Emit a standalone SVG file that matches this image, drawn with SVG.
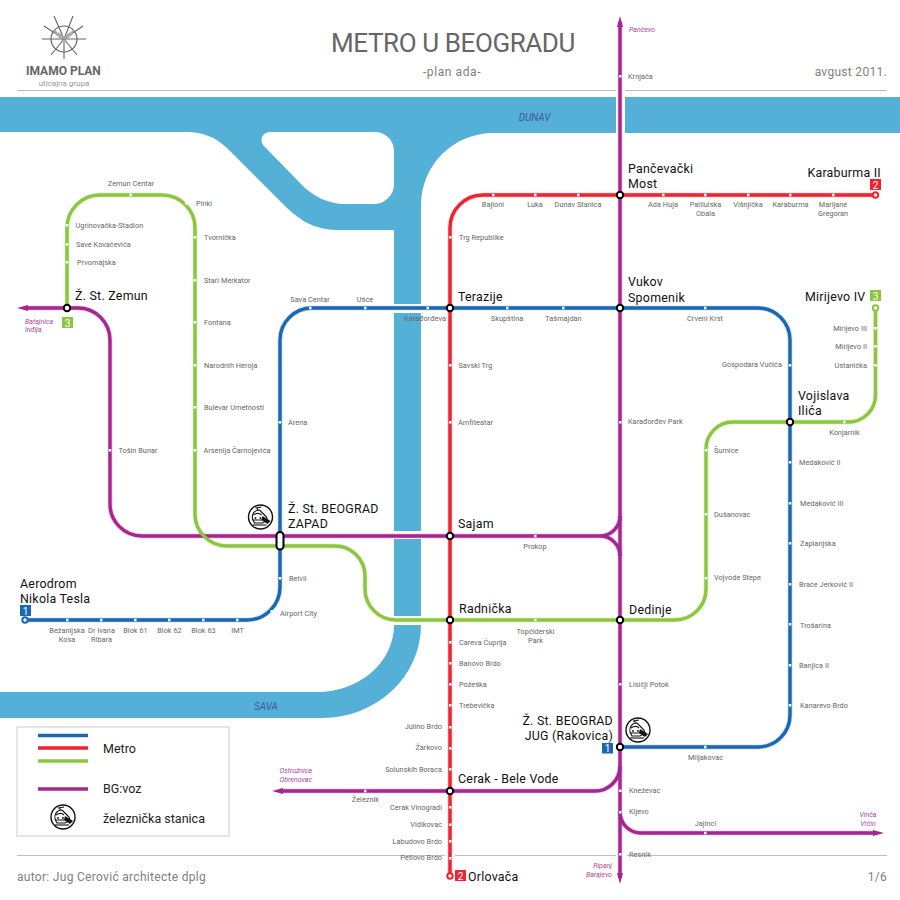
<svg xmlns="http://www.w3.org/2000/svg" width="900" height="900" viewBox="0 0 900 900">
<style>
text{font-family:Roboto,"Liberation Sans",sans-serif}
.s{font-size:7.3px;fill:#666;letter-spacing:.04px}
.m{text-anchor:middle}.e{text-anchor:end}
.b{font-size:12.400px;fill:#111;letter-spacing:.25px}
.o{font-size:7px;fill:#a8489e;font-style:italic}
.r{font-size:10px;fill:#3f55a5;font-style:italic;text-anchor:middle}
.h{font-size:12px;fill:#808080;letter-spacing:.3px}
.n{font-size:10px;fill:#fff;text-anchor:middle}
.d{fill:#fff}
.w{fill:#55b0d8}
.l{fill:none;stroke-width:3.400}
.hl{fill:none;stroke-width:5;stroke-opacity:.22}
.pu{stroke:#a6268f}.re{stroke:#ee2330}.bl{stroke:#1b68b2}.gr{stroke:#8cc63f}
.x{fill:#fff;stroke:#000;stroke-width:2}
.rule{stroke:#bdbdbd;stroke-width:1;fill:none}
.ring{fill:#fff;stroke-width:2}
.tr{fill:none;stroke:#111;stroke-width:1.100}
</style>
<defs>
<g id="train">
<circle r="12" fill="#fff" stroke="#111" stroke-width="1.400"/>
<path class="tr" d="M-8 2C-9-3-6-7-1-7L3-3 6 0 7 3 2 6-6 6Z"/>
<path class="tr" d="M-7-2C-4-4-1-4 1-2M-8 3H2M-5-9L1-10M-3-9V-7"/>
<path d="M2-1L10 4 7 7 1 3Z" fill="#111"/>
<path d="M-8 8H6" class="tr"/>
<circle cx="-5" cy="1" r=".9" fill="#111"/><circle cx="0" cy="1" r=".9" fill="#111"/>
</g>
<path id="pa" d="M620 22V878"/>
<path id="pb" d="M25 308H78A32 32 0 0 1 110 340V504A32 32 0 0 0 142 536H600A20 20 0 0 0 620 516M600 536A20 20 0 0 1 620 556"/>
<path id="pc" d="M280 791H595A25 25 0 0 0 620 766"/>
<path id="pd" d="M620 812A21 21 0 0 0 641 833H875"/>
<path id="lb" d="M25 620H247A33 33 0 0 0 280 587V340A32 32 0 0 1 312 308H758A32 32 0 0 1 790 340V715A32 32 0 0 1 758 747H620"/>
<path id="lr" d="M875.500 195H483A33 33 0 0 0 450 228V876"/>
<path id="lg" d="M875.500 308V395A27 27 0 0 1 848.500 422H733A27 27 0 0 0 706 449V589A31 31 0 0 1 675 620H396A31 31 0 0 1 365 589V576A30 30 0 0 0 335 546H227A32 32 0 0 1 195 514V228A33 33 0 0 0 162 195H100A33 33 0 0 0 67 228V308"/>
</defs>
<rect width="900" height="900" fill="#fff"/>

<g id="water">
<path class="w" fill-rule="evenodd" d="M0 97H616V133H493A72 72 0 0 0 421 205V304H394V230H340C320 230 305 225 287 208L227 148C215 137 203 132 187 132H0ZM270 132H375A19 19 0 0 1 394 151V184A20 20 0 0 1 375 204H345C328 204 312 196 300 183L264 146C259 141 262 132 270 132Z"/>
<rect class="w" x="625" y="97" width="275" height="36"/>
<rect class="w" x="394" y="313" width="27" height="218"/>
<rect class="w" x="394" y="539" width="27" height="77"/>
<path class="w" d="M394 625H421A99 93 0 0 1 322 718H0V692H317A77 67 0 0 0 394 625Z"/>
<text class="r" x="534.500" y="120.500">DUNAV</text>
<text class="r" x="266" y="710">SAVA</text>
</g>

<g id="header">
<path class="rule" d="M17 90.500H616M625 90.500H887M17 855.500H445M455 855.500H616M627 855.500H887"/>
<text x="331" y="52" font-size="26" fill="#666" style="letter-spacing:-.4px">METRO U BEOGRADU</text>
<text class="h m" x="452" y="76" style="letter-spacing:.6px">-plan ada-</text>
<text class="h e" x="887" y="76">avgust 2011.</text>
<text class="h" x="17" y="881">autor: Jug Cerović architecte dplg</text>
<text class="h e" x="887" y="881">1/6</text>
</g>

<g id="logo" fill="none" stroke="#666" stroke-width="1.200">
<circle cx="64" cy="39" r="13"/>
<path d="M42 39H86M64 39V59M64 39L54 16M64 39L73 16M64 39L51 55M64 39L77 55M64 39L44 26M64 39L83 26" stroke-width="1.100"/>
<path d="M54 30L64 42 74 30M58 33L64 38 70 33" stroke="#aaa" stroke-width="2"/>
<text x="26" y="75" font-size="12" font-weight="700" fill="#666" stroke="none">IMAMO PLAN</text>
<text x="64" y="85.500" font-size="8" fill="#999" stroke="none" text-anchor="middle">uticajna grupa</text>
</g>

<g id="legend">
<rect x="17" y="727" width="212" height="109" fill="#fff" stroke="#ccc"/>
<path class="l bl" d="M38 735.500H88"/>
<path class="l re" d="M38 748H88"/>
<path class="l gr" d="M38 761H88"/>
<path class="l pu" d="M38 789H88"/>
<text x="103" y="753" font-size="12.500" fill="#222">Metro</text>
<text x="103" y="793" font-size="12.500" fill="#222">BG:voz</text>
<text x="103" y="823" font-size="12.500" fill="#222">železnička stanica</text>
<use href="#train" x="63" y="817"/>
</g>

<g id="connectors">
<use href="#pa" class="hl pu"/><use href="#pb" class="hl pu"/><use href="#pc" class="hl pu"/><use href="#pd" class="hl pu"/>
<use href="#lb" class="hl bl"/><use href="#lr" class="hl re"/><use href="#lg" class="hl gr"/>
<use href="#pa" class="l pu"/><use href="#pb" class="l pu"/><use href="#pc" class="l pu"/><use href="#pd" class="l pu"/>
<use href="#lb" class="l bl"/><use href="#lr" class="l re"/><use href="#lg" class="l gr"/>
<path fill="#a6268f" d="M620 16L623 27H617ZM620 884L617 873H623ZM17 308L28 305V311ZM272 791L283 788V794ZM884 833L873 830V836Z"/>
</g>

<g id="terminals">
<g id="t-karaburma2"><circle class="ring re" cx="875.500" cy="195" r="2.700"/><rect x="870" y="179" width="11" height="11" fill="#ee2330"/><text class="n" x="875.500" y="188.500">2</text><text class="b e" x="881" y="177">Karaburma II</text></g>
<g id="t-mirijevo4"><circle class="ring gr" cx="875.500" cy="308" r="2.700"/><rect x="870" y="290" width="11" height="11" fill="#8cc63f"/><text class="n" x="875.500" y="299.500">3</text><text class="b e" x="865.500" y="301">Mirijevo IV</text></g>
<g id="t-aerodrom"><circle class="ring bl" cx="25" cy="620" r="2.700"/><rect x="20" y="605" width="11" height="11" fill="#1b68b2"/><text class="n" x="25.500" y="614.500">1</text><text class="b" x="20" y="588">Aerodrom</text><text class="b" x="20" y="603">Nikola Tesla</text></g>
<g id="t-orlovaca"><circle class="ring re" cx="450" cy="876" r="2.700"/><rect x="455" y="870" width="11" height="11" fill="#ee2330"/><text class="n" x="460.500" y="879.500">2</text><text class="b" x="468" y="881">Orlovača</text></g>
</g>

<g id="interchanges">
<g id="n-pancevacki"><circle class="x" cx="620" cy="195" r="3.200"/><text class="b" x="628" y="173">Pančevački</text><text class="b" x="628" y="188">Most</text></g>
<g id="n-vukov"><circle class="x" cx="620" cy="308" r="3.200"/><text class="b" x="628" y="286">Vukov</text><text class="b" x="628" y="302">Spomenik</text></g>
<g id="n-terazije"><circle class="x" cx="450" cy="308" r="3.200"/><text class="b" x="458" y="301">Terazije</text></g>
<g id="n-zemun"><circle class="x" cx="67" cy="308" r="3.200"/><text class="b" x="75" y="300">Ž. St. Zemun</text><rect x="62" y="317" width="11" height="11" fill="#8cc63f"/><text class="n" x="67.500" y="326.500">3</text></g>
<g id="n-vojislava"><circle class="x" cx="790" cy="422" r="3.200"/><text class="b" x="798" y="400">Vojislava</text><text class="b" x="798" y="415">Ilića</text></g>
<g id="n-sajam"><circle class="x" cx="450" cy="536" r="3.200"/><text class="b" x="458" y="528">Sajam</text></g>
<g id="n-zapad"><rect class="x" x="276.500" y="532" width="7" height="17.500" rx="3.500"/><text class="b" x="288" y="513">Ž. St. BEOGRAD</text><text class="b" x="288" y="528">ZAPAD</text><use href="#train" x="260.500" y="517"/></g>
<g id="n-radnicka"><circle class="x" cx="450" cy="620" r="3.200"/><text class="b" x="459" y="613">Radnička</text></g>
<g id="n-dedinje"><circle class="x" cx="620" cy="620" r="3.200"/><text class="b" x="629" y="614">Dedinje</text></g>
<g id="n-jug"><circle class="x" cx="620" cy="747" r="3.200"/><text class="b e" x="613" y="725">Ž. St. BEOGRAD</text><text class="b e" x="613" y="740">JUG (Rakovica)</text><rect x="602" y="743" width="11" height="10.500" fill="#1b68b2"/><text class="n" x="607.500" y="752">1</text><use href="#train" x="638" y="730"/></g>
<g id="n-cerak"><circle class="x" cx="450" cy="791" r="3.200"/><text class="b" x="458" y="783">Cerak - Bele Vode</text></g>
</g>

<g id="directions">
<text class="o" x="629" y="32">Pančevo</text>
<text class="o" x="25" y="323.500">Batajnica</text><text class="o" x="25" y="332">Inđija</text>
<text class="o e" x="312" y="772.500">Ostružnica</text><text class="o e" x="312" y="781.500">Obrenovac</text>
<text class="o e" x="612" y="867.500">Ripanj</text><text class="o e" x="612" y="876.500">Barajevo</text>
<text class="o m" x="868" y="816.500">Vinča</text><text class="o m" x="868" y="825.500">Vrčin</text>
</g>

<g id="stations">
<g id="s01"><rect class="d" x="619" y="75" width="2.500" height="2.500"/><text class="s" x="628" y="79">Krnjača</text></g>
<g id="s02"><rect class="d" x="129.500" y="193.700" width="2.500" height="2.500"/><text class="s m" x="131" y="186">Zemun Centar</text></g>
<g id="s03"><rect class="d" x="185" y="202" width="2.500" height="2.500"/><text class="s" x="196" y="206">Pinki</text></g>
<g id="s04"><rect class="d" x="193.700" y="236" width="2.500" height="2.500"/><text class="s" x="204" y="240">Tvornička</text></g>
<g id="s05"><rect class="d" x="193.700" y="279" width="2.500" height="2.500"/><text class="s" x="204" y="283">Stari  Merkator</text></g>
<g id="s06"><rect class="d" x="193.700" y="321" width="2.500" height="2.500"/><text class="s" x="204" y="325">Fontana</text></g>
<g id="s07"><rect class="d" x="193.700" y="364" width="2.500" height="2.500"/><text class="s" x="204" y="368">Narodnih Heroja</text></g>
<g id="s08"><rect class="d" x="193.700" y="406" width="2.500" height="2.500"/><text class="s" x="204" y="410">Bulevar Umetnosti</text></g>
<g id="s09"><rect class="d" x="193.700" y="449" width="2.500" height="2.500"/><text class="s" x="203.500" y="453">Arsenija Čarnojevića</text></g>
<g id="s10"><rect class="d" x="65.800" y="224" width="2.500" height="2.500"/><text class="s" x="75.500" y="228">Ugrinovačka-Stadion</text></g>
<g id="s11"><rect class="d" x="65.800" y="243" width="2.500" height="2.500"/><text class="s" x="76" y="247">Save Kovačevića</text></g>
<g id="s12"><rect class="d" x="65.800" y="261" width="2.500" height="2.500"/><text class="s" x="77" y="265">Prvomajska</text></g>
<g id="s13"><rect class="d" x="108.700" y="449" width="2.500" height="2.500"/><text class="s" x="118.500" y="453">Tošin Bunar</text></g>
<g id="s14"><rect class="d" x="309" y="306.800" width="2.500" height="2.500"/><text class="s m" x="310" y="302">Sava Centar</text></g>
<g id="s15"><rect class="d" x="364" y="306.800" width="2.500" height="2.500"/><text class="s m" x="365" y="302">Ušće</text></g>
<g id="s16"><rect class="d" x="426.500" y="306.800" width="2.500" height="2.500"/><text class="s m" x="425" y="321">Karađorđeva</text></g>
<g id="s17"><rect class="d" x="506" y="306.800" width="2.500" height="2.500"/><text class="s m" x="507" y="321">Skupština</text></g>
<g id="s18"><rect class="d" x="562" y="306.800" width="2.500" height="2.500"/><text class="s m" x="563.500" y="321">Tašmajdan</text></g>
<g id="s19"><rect class="d" x="704" y="306.800" width="2.500" height="2.500"/><text class="s m" x="705" y="321">Crveni Krst</text></g>
<g id="s20"><rect class="d" x="449" y="236" width="2.500" height="2.500"/><text class="s" x="459" y="240">Trg Republike</text></g>
<g id="s21"><rect class="d" x="449" y="364" width="2.500" height="2.500"/><text class="s" x="458.500" y="368">Savski Trg</text></g>
<g id="s22"><rect class="d" x="449" y="421" width="2.500" height="2.500"/><text class="s" x="458" y="425">Amfiteatar</text></g>
<g id="s23"><rect class="d" x="492" y="193.700" width="2.500" height="2.500"/><text class="s m" x="493" y="207">Bajloni</text></g>
<g id="s24"><rect class="d" x="534" y="193.700" width="2.500" height="2.500"/><text class="s m" x="535" y="207">Luka</text></g>
<g id="s25"><rect class="d" x="577" y="193.700" width="2.500" height="2.500"/><text class="s m" x="578" y="207">Dunav Stanica</text></g>
<g id="s26"><rect class="d" x="662" y="193.700" width="2.500" height="2.500"/><text class="s m" x="663" y="207">Ada Huja</text></g>
<g id="s27"><rect class="d" x="704" y="193.700" width="2.500" height="2.500"/><text class="s m" x="705.500" y="207">Palilulska</text><text class="s m" x="705.500" y="216">Obala</text></g>
<g id="s28"><rect class="d" x="747" y="193.700" width="2.500" height="2.500"/><text class="s m" x="748" y="207">Višnjička</text></g>
<g id="s29"><rect class="d" x="789" y="193.700" width="2.500" height="2.500"/><text class="s m" x="790.500" y="207">Karaburma</text></g>
<g id="s30"><rect class="d" x="832" y="193.700" width="2.500" height="2.500"/><text class="s m" x="833" y="207">Marijane</text><text class="s m" x="833" y="216">Gregoran</text></g>
<g id="s31"><rect class="d" x="278.700" y="421" width="2.500" height="2.500"/><text class="s" x="288" y="425">Arena</text></g>
<g id="s32"><rect class="d" x="534" y="534.800" width="2.500" height="2.500"/><text class="s m" x="535" y="549">Prokop</text></g>
<g id="s33"><rect class="d" x="278.700" y="577" width="2.500" height="2.500"/><text class="s" x="289" y="581">Belvil</text></g>
<g id="s34"><rect class="d" x="270.500" y="610" width="2.500" height="2.500"/><text class="s" x="280" y="616">Airport City</text></g>
<g id="s35"><rect class="d" x="66" y="618.800" width="2.500" height="2.500"/><text class="s m" x="67" y="633">Bežanijska</text><text class="s m" x="67" y="642">Kosa</text></g>
<g id="s36"><rect class="d" x="100" y="618.800" width="2.500" height="2.500"/><text class="s m" x="101.500" y="633">Dr Ivana</text><text class="s m" x="101.500" y="642">Ribara</text></g>
<g id="s37"><rect class="d" x="134" y="618.800" width="2.500" height="2.500"/><text class="s m" x="135.500" y="633">Blok 61</text></g>
<g id="s38"><rect class="d" x="168" y="618.800" width="2.500" height="2.500"/><text class="s m" x="169.500" y="633">Blok 62</text></g>
<g id="s39"><rect class="d" x="202" y="618.800" width="2.500" height="2.500"/><text class="s m" x="203.500" y="633">Blok 63</text></g>
<g id="s40"><rect class="d" x="236" y="618.800" width="2.500" height="2.500"/><text class="s m" x="237.500" y="633">IMT</text></g>
<g id="s41"><rect class="d" x="534" y="618.800" width="2.500" height="2.500"/><text class="s m" x="535.500" y="634">Topčiderski</text><text class="s m" x="535.500" y="643">Park</text></g>
<g id="s42"><rect class="d" x="449" y="641" width="2.500" height="2.500"/><text class="s" x="459" y="645">Careva Ćuprija</text></g>
<g id="s43"><rect class="d" x="449" y="662" width="2.500" height="2.500"/><text class="s" x="459" y="666">Banovo Brdo</text></g>
<g id="s44"><rect class="d" x="449" y="683" width="2.500" height="2.500"/><text class="s" x="459" y="687">Požeška</text></g>
<g id="s45"><rect class="d" x="449" y="704" width="2.500" height="2.500"/><text class="s" x="459" y="708">Trebevička</text></g>
<g id="s46"><rect class="d" x="449" y="726" width="2.500" height="2.500"/><text class="s e" x="442" y="729">Julino Brdo</text></g>
<g id="s47"><rect class="d" x="449" y="747" width="2.500" height="2.500"/><text class="s e" x="442" y="750">Žarkovo</text></g>
<g id="s48"><rect class="d" x="449" y="768" width="2.500" height="2.500"/><text class="s e" x="442" y="772">Solunskih Boraca</text></g>
<g id="s49"><rect class="d" x="364" y="789.800" width="2.500" height="2.500"/><text class="s m" x="365.500" y="802">Železnik</text></g>
<g id="s50"><rect class="d" x="449" y="806" width="2.500" height="2.500"/><text class="s e" x="442" y="810">Cerak Vinogradi</text></g>
<g id="s51"><rect class="d" x="449" y="823.500" width="2.500" height="2.500"/><text class="s e" x="442" y="827">Vidikovac</text></g>
<g id="s52"><rect class="d" x="449" y="840" width="2.500" height="2.500"/><text class="s e" x="442" y="844">Labudovo Brdo</text></g>
<g id="s53"><rect class="d" x="449" y="857" width="2.500" height="2.500"/><text class="s e" x="442" y="860">Petlovo Brdo</text></g>
<g id="s54"><rect class="d" x="619" y="421" width="2.500" height="2.500"/><text class="s" x="628" y="424">Karađorđev Park</text></g>
<g id="s55"><rect class="d" x="619" y="683" width="2.500" height="2.500"/><text class="s" x="629" y="687">Lisičji Potok</text></g>
<g id="s56"><rect class="d" x="619" y="789.500" width="2.500" height="2.500"/><text class="s" x="629" y="793">Kneževac</text></g>
<g id="s57"><rect class="d" x="619" y="811" width="2.500" height="2.500"/><text class="s" x="629" y="814">Kijevo</text></g>
<g id="s58"><rect class="d" x="619" y="853" width="2.500" height="2.500"/><text class="s" x="629" y="857">Resnik</text></g>
<g id="s59"><rect class="d" x="704" y="831.800" width="2.500" height="2.500"/><text class="s m" x="705.500" y="826">Jajinci</text></g>
<g id="s60"><rect class="d" x="704" y="745.800" width="2.500" height="2.500"/><text class="s m" x="705.500" y="760">Miljakovac</text></g>
<g id="s61"><rect class="d" x="843" y="420.800" width="2.500" height="2.500"/><text class="s m" x="844.500" y="435">Konjarnik</text></g>
<g id="s62"><rect class="d" x="704.800" y="449" width="2.500" height="2.500"/><text class="s" x="714" y="453">Šumice</text></g>
<g id="s63"><rect class="d" x="704.800" y="513" width="2.500" height="2.500"/><text class="s" x="714" y="517">Dušanovac</text></g>
<g id="s64"><rect class="d" x="704.800" y="577" width="2.500" height="2.500"/><text class="s" x="714" y="580">Vojvode Stepe</text></g>
<g id="s65"><rect class="d" x="788.800" y="364" width="2.500" height="2.500"/><text class="s e" x="782" y="367">Gospodara Vučića</text></g>
<g id="s66"><rect class="d" x="788.800" y="461" width="2.500" height="2.500"/><text class="s" x="799" y="465">Medaković II</text></g>
<g id="s67"><rect class="d" x="788.800" y="502" width="2.500" height="2.500"/><text class="s" x="800" y="506">Medaković III</text></g>
<g id="s68"><rect class="d" x="788.800" y="542" width="2.500" height="2.500"/><text class="s" x="800" y="546">Zaplanjska</text></g>
<g id="s69"><rect class="d" x="788.800" y="583" width="2.500" height="2.500"/><text class="s" x="799" y="587">Braće Jerković II</text></g>
<g id="s70"><rect class="d" x="788.800" y="623" width="2.500" height="2.500"/><text class="s" x="800" y="628">Trošarina</text></g>
<g id="s71"><rect class="d" x="788.800" y="664" width="2.500" height="2.500"/><text class="s" x="799" y="668">Banjica II</text></g>
<g id="s72"><rect class="d" x="788.800" y="704" width="2.500" height="2.500"/><text class="s" x="800" y="708">Kanarevo Brdo</text></g>
<g id="s73"><rect class="d" x="874.300" y="327" width="2.500" height="2.500"/><text class="s e" x="867" y="331">Mirijevo III</text></g>
<g id="s74"><rect class="d" x="874.300" y="345" width="2.500" height="2.500"/><text class="s e" x="867" y="349">Mirijevo II</text></g>
<g id="s75"><rect class="d" x="874.300" y="364" width="2.500" height="2.500"/><text class="s e" x="867" y="368">Ustanička</text></g>
</g>
</svg>
